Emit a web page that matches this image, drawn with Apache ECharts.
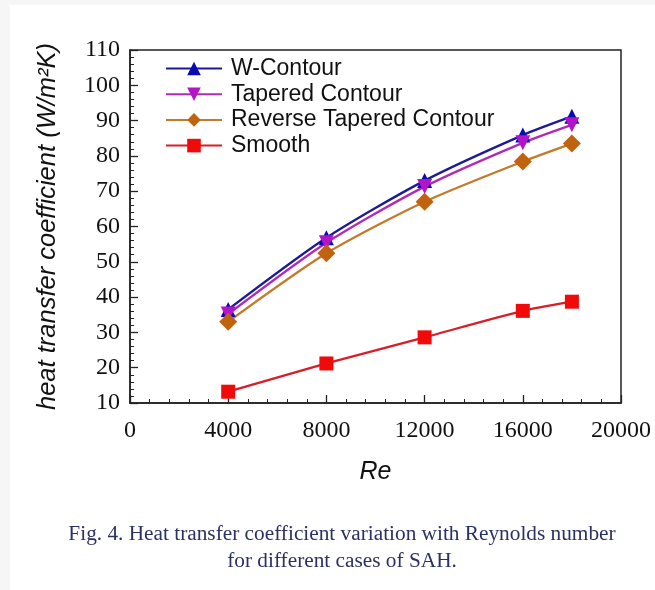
<!DOCTYPE html>
<html>
<head>
<meta charset="utf-8">
<script src="https://cdn.jsdelivr.net/npm/echarts@6/dist/echarts.min.js"></script>
<style>
html,body{margin:0;padding:0;background:#f6f6f7;}
#wrap{position:absolute;left:10px;top:5px;width:645px;height:585px;background:#fff;}
#chart{position:absolute;left:-10px;top:-5px;width:655px;height:590px;}
</style>
</head>
<body>
<div id="wrap"><div id="chart"></div></div>
<script>
const reynolds = [4000, 8000, 12000, 16000, 18000];
const wContour = [36.5, 56.8, 73.0, 85.9, 91.2];
const taperedContour = [35.2, 55.4, 71.3, 83.7, 88.8];
const reverseTaperedContour = [33.0, 52.4, 67.0, 78.4, 83.5];
const smooth = [13.2, 21.2, 28.6, 36.1, 38.7];
const seriesNames = ['W-Contour', 'Tapered Contour', 'Reverse Tapered Contour', 'Smooth'];
const xTicks = [0, 4000, 8000, 12000, 16000, 20000];
const yTicks = [10, 20, 30, 40, 50, 60, 70, 80, 90, 100, 110];

const pairs = arr => reynolds.map((x, i) => [x, arr[i]]);
const chart = echarts.init(document.getElementById('chart'), null, {renderer: 'canvas'});
const serif = '"Liberation Serif","Times New Roman",serif';
const sans = '"Liberation Sans",Arial,sans-serif';

function mk(name, data, lineColor, markColor, symbol, rotate, size) {
  return {
    name: name, type: 'line', data: pairs(data), smooth: 0.25,
    symbol: symbol, symbolRotate: rotate, symbolSize: size,
    lineStyle: {color: lineColor, width: 2.3},
    itemStyle: {color: markColor},
    emphasis: {disabled: true},
    z: 3
  };
}

chart.setOption({
  animation: false,
  backgroundColor: 'transparent',
  title: [
    {text: 'Fig. 4. Heat transfer coefficient variation with Reynolds number', left: 337, textAlign: 'center', top: 519,
     textStyle: {fontFamily: serif, fontSize: 21.3, fontWeight: 'normal', color: '#2b3163'}},
    {text: 'for different cases of SAH.', left: 337, textAlign: 'center', top: 546,
     textStyle: {fontFamily: serif, fontSize: 21.3, fontWeight: 'normal', color: '#2b3163'}}
  ],
  grid: {left: 130, right: 34, top: 50, bottom: 187, show: true, borderColor: '#222', borderWidth: 1.5, backgroundColor: 'transparent'},
  legend: {
    orient: 'vertical', left: 160, top: 52, itemWidth: 56, itemHeight: 17, itemGap: 2.7,
    data: seriesNames,
    textStyle: {fontFamily: sans, fontSize: 23, color: '#111', lineHeight: 23, padding: [0, 0, 0, 4]}
  },
  xAxis: {
    type: 'value', min: 0, max: 20000, interval: 4000,
    name: 'Re', nameLocation: 'middle', nameGap: 57,
    nameTextStyle: {fontFamily: sans, fontSize: 25, fontStyle: 'italic', color: '#111'},
    axisLine: {show: true, lineStyle: {color: '#222', width: 1.5}},
    axisTick: {show: true, inside: true, length: 8, lineStyle: {color: '#222', width: 1.3}},
    minorTick: {show: true, splitNumber: 5, length: 4, lineStyle: {color: '#222', width: 1}},
    splitLine: {show: false},
    axisLabel: {fontFamily: serif, fontSize: 24, color: '#111', margin: 16,
      formatter: v => xTicks.includes(v) ? String(v) : ''}
  },
  yAxis: {
    type: 'value', min: 10, max: 110, interval: 10,
    name: 'heat transfer coefficient (W/m²K)', nameLocation: 'middle', nameGap: 69, nameRotate: 90,
    nameTextStyle: {fontFamily: sans, fontSize: 25.5, fontStyle: 'italic', color: '#111'},
    axisLine: {show: true, lineStyle: {color: '#222', width: 1.5}},
    axisTick: {show: true, inside: true, length: 8, lineStyle: {color: '#222', width: 1.3}},
    minorTick: {show: true, splitNumber: 5, length: 4, lineStyle: {color: '#222', width: 1}},
    splitLine: {show: false},
    axisLabel: {fontFamily: serif, fontSize: 24, color: '#111', margin: 10,
      formatter: v => yTicks.includes(v) ? String(v) : ''}
  },
  series: [
    mk(seriesNames[0], wContour, '#1c1a96', '#0a0ab4', 'triangle', 0, 15),
    mk(seriesNames[1], taperedContour, '#b02ab8', '#b414c8', 'triangle', 180, 15),
    mk(seriesNames[2], reverseTaperedContour, '#c47a2a', '#c0620e', 'diamond', 0, 18),
    mk(seriesNames[3], smooth, '#d81e28', '#f00a0a', 'rect', 0, 14)
  ]
});
</script>
</body>
</html>
